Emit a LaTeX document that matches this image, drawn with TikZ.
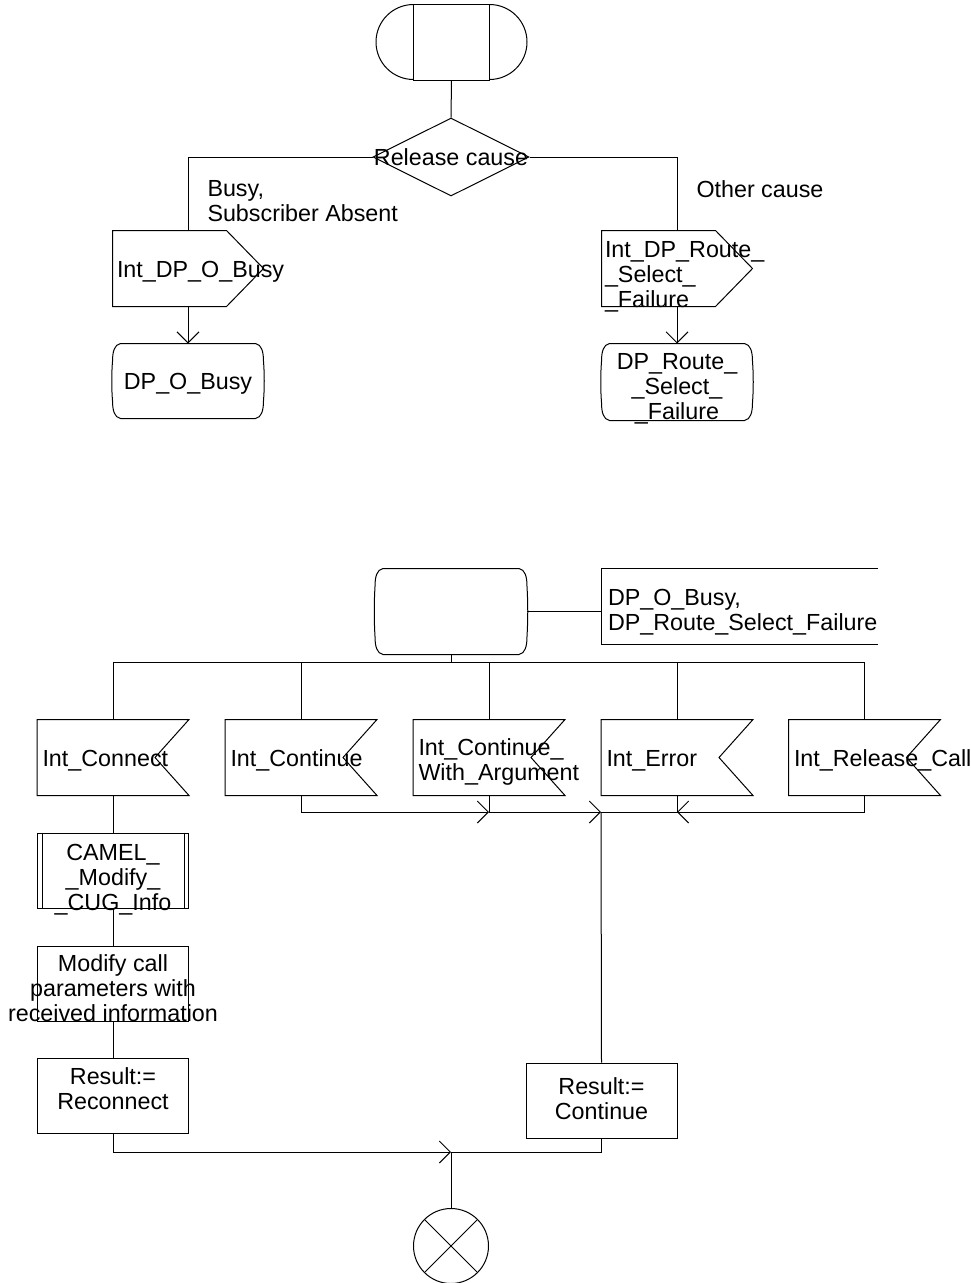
\documentclass[tikz,border=0pt]{standalone}
\usepackage{fontspec}
\setmainfont{Liberation Sans}
\usepackage{tikz}
\usetikzlibrary{arrows.meta,calc,positioning,shapes.geometric}
\tikzset{>={Straight Barb[length=11pt,width=22pt]}}
\tikzstyle{box}=[minimum width=151pt,minimum height=75pt,inner sep=0pt]
\tikzstyle{proc}=[box,draw]
\tikzstyle{txt}=[inner sep=0pt,align=center]
\tikzstyle{ltxt}=[inner sep=0pt,align=left]
\def\notch{34}
\def\tip{37}
\def\rad{37.5}
% output signal, pointing right
\newcommand\outsig[1]{\draw (#1.north west) -- ($(#1.north east)+(-\tip,0)$) -- (#1.east)
  -- ($(#1.south east)+(-\tip,0)$) -- (#1.south west) -- cycle;}
% input signal, notched right
\newcommand\insig[1]{\draw (#1.north west) -- (#1.north east) -- ($(#1.east)+(-\notch,0)$)
  -- (#1.south east) -- (#1.south west) -- cycle;}
% state
\newcommand\stateshape[1]{\draw ($(#1.north west)+(8,0)$) -- ($(#1.north east)+(-8,0)$)
  .. controls ($(#1.north east)+(-2,1)$) and ($(#1.north east)+(0,8)$) .. ($(#1.north east)+(0,18)$)
  .. controls ($(#1.east)+(1,-8)$) and ($(#1.east)+(1,8)$) .. ($(#1.south east)+(0,-18)$)
  .. controls ($(#1.south east)+(0,-8)$) and ($(#1.south east)+(-2,-1)$) .. ($(#1.south east)+(-8,0)$)
  -- ($(#1.south west)+(8,0)$)
  .. controls ($(#1.south west)+(2,-1)$) and ($(#1.south west)+(0,-8)$) .. ($(#1.south west)+(0,-18)$)
  .. controls ($(#1.west)+(-1,8)$) and ($(#1.west)+(-1,-8)$) .. ($(#1.north west)+(0,18)$)
  .. controls ($(#1.north west)+(0,8)$) and ($(#1.north west)+(2,1)$) .. ($(#1.north west)+(8,0)$)
  -- cycle;}

\begin{document}
\begin{tikzpicture}[x=1pt,y=-1pt,line width=1pt,font=\fontsize{23.3}{25}\selectfont]
  \useasboundingbox (0,0) rectangle (971,1283);

  % START
  \node[box,minimum width=75pt] (st) at (451.5,42.5) {};
  \draw (st.north west) rectangle (st.south east);
  \draw (st.north west) arc[start angle=270,end angle=90,radius=\rad];
  \draw (st.north east) arc[start angle=-90,end angle=90,radius=\rad];

  % DECISION
  \node[diamond,draw,minimum width=156pt,minimum height=78pt,inner sep=0pt] (dec) at (451,157) {};
  \node[txt] (t-dec) at (dec) {Release cause};
  \draw (st.south) -- (dec.north);
  \node[ltxt,anchor=west] (l-busy) at (207,201) {Busy,\\Subscriber Absent};
  \node[ltxt,anchor=west] (l-other) at (696,189) {Other cause};

  % OUTPUTS
  \node[box,minimum width=150pt] (obusy) at (188,268.5) {};
  \outsig{obusy}
  \node[ltxt,right=4pt of obusy.west,yshift=-3pt] (t-obusy) {Int\_DP\_O\_Busy};
  \node[box,minimum width=150pt] (oroute) at (677,268.5) {};
  \outsig{oroute}
  \node[ltxt,right=3pt of oroute.west,yshift=-8pt] (t-oroute) {Int\_DP\_Route\_\\\_Select\_\\\_Failure};
  \draw (dec.west) -| (obusy.north);
  \draw (dec.east) -| (oroute.north);

  % STATES
  \node[box,minimum width=150pt,minimum height=74pt] (sbusy) at (188,381) {};
  \stateshape{sbusy}
  \node[txt,yshift=-3pt] (t-sbusy) at (sbusy) {DP\_O\_Busy};
  \node[box,minimum width=150pt,minimum height=76pt] (sroute) at (677,382) {};
  \stateshape{sroute}
  \node[txt,yshift=-7pt] (t-sroute) at (sroute) {DP\_Route\_\\\_Select\_\\\_Failure};
  \draw[->] (obusy.south) -- (sbusy.north);
  \draw[->] (oroute.south) -- (sroute.north);

  % WAIT STATE
  \node[box,minimum height=85pt] (st2) at (451,611.5) {};
  \stateshape{st2}
  \node[box,minimum width=275pt] (cm) at (739.5,606.5) {};
  \draw (cm.north east) -- (cm.north west) -- (cm.south west) -- (cm.south east);
  \node[ltxt,right=6pt of cm.west,yshift=-6pt] (t-cm) {DP\_O\_Busy,\\DP\_Route\_Select\_Failure};
  \draw (st2.east) -- (st2.east -| cm.west);

  % INPUTS
  \coordinate (bus) at (451,662);
  \draw (st2.south) -- (bus);
  \node[box] (icon) at (113,757.5) {};
  \node[box] (icont) at (301,757.5) {};
  \node[box] (icwa) at (489,757.5) {};
  \node[box] (ierr) at (677,757.5) {};
  \node[box] (irel) at (864.5,757.5) {};
  \foreach \n in {icon,icont,icwa,ierr,irel}{
    \insig{\n}
    \draw (bus) -| (\n.north);
  }
  \node[ltxt,right=5pt of icon.west,yshift=-3pt] (t-icon) {Int\_Connect};
  \node[ltxt,right=5pt of icont.west,yshift=-3pt] (t-icont) {Int\_Continue};
  \node[ltxt,right=5pt of icwa.west,yshift=-4pt] (t-icwa) {Int\_Continue\_\\With\_Argument};
  \node[ltxt,right=5pt of ierr.west,yshift=-3pt] (t-ierr) {Int\_Error};
  \node[ltxt,right=5pt of irel.west,yshift=-3pt] (t-irel) {Int\_Release\_Call};

  % MERGE
  \coordinate (j1) at (489,812);
  \coordinate (j2) at (601,812);
  \coordinate (j3) at (677,812);
  \draw[->] (icont.south) |- (j1);
  \draw[->] (icwa.south) |- (j2);
  \draw (ierr.south) |- (j2);
  \draw[->] (irel.south) |- (j3);

  % CONNECT BRANCH
  \node[proc] (camel) at (113,870.5) {};
  \draw ($(camel.north west)+(5,0)$) -- ($(camel.south west)+(5,0)$);
  \draw ($(camel.north east)+(-5,0)$) -- ($(camel.south east)+(-5,0)$);
  \node[txt,yshift=-9pt] (t-camel) at (camel) {CAMEL\_\\\_Modify\_\\\_CUG\_Info};
  \node[proc] (modify) at (113,983.5) {};
  \node[txt,yshift=-5pt] (t-modify) at (modify) {Modify call\\parameters with\\received information};
  \node[proc] (rrec) at (113,1095.5) {};
  \node[txt,yshift=7pt] (t-rrec) at (rrec) {Result:=\\Reconnect};
  \draw (icon.south) -- (camel.north);
  \draw (camel.south) -- (modify.north);
  \draw (modify.south) -- (rrec.north);

  % CONTINUE BRANCH
  \node[proc] (rcont) at (601.5,1100.5) {};
  \node[txt,yshift=2pt] (t-rcont) at (rcont) {Result:=\\Continue};
  \draw (j2) -- (rcont.north);

  % STOP
  \coordinate (j4) at (451,1152);
  \draw[->] (rrec.south) |- (j4);
  \draw (rcont.south) |- (j4);
  \node[circle,draw,minimum size=75pt,inner sep=0pt] (stop) at (451,1246) {};
  \draw (stop.north west) -- (stop.south east);
  \draw (stop.north east) -- (stop.south west);
  \draw (j4) -- (stop.north);

\end{tikzpicture}
\end{document}
